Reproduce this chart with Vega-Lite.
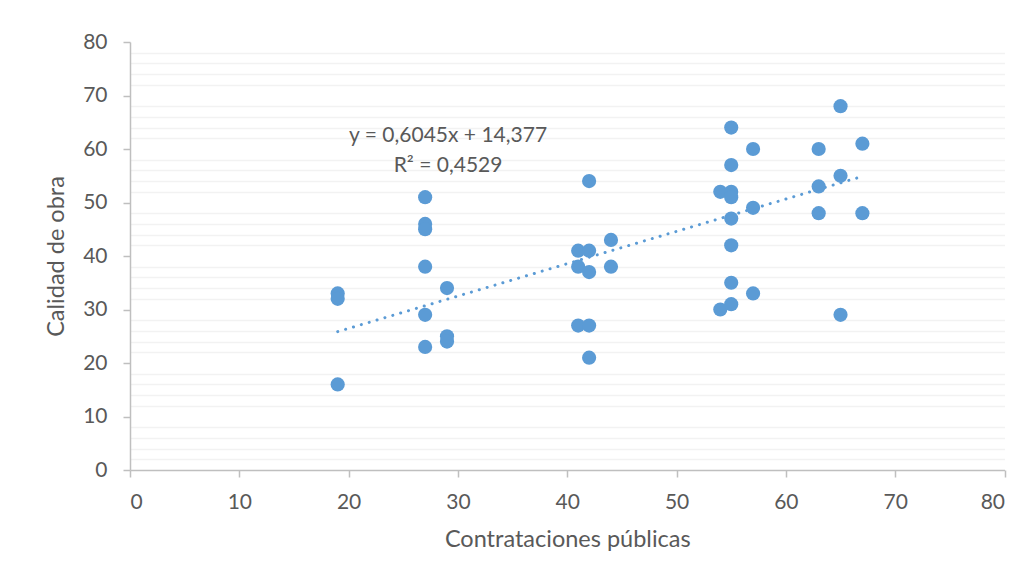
{
  "$schema": "https://vega.github.io/schema/vega-lite/v6.json",
  "width": 874.5,
  "height": 428,
  "autosize": {"type": "none"},
  "padding": {"left": 130, "top": 42, "right": 28.5, "bottom": 113},
  "background": "white",
  "config": {
    "view": {"stroke": null},
    "font": "Lato",
    "axis": {
      "labelFont": "Lato",
      "titleFont": "Lato",
      "labelColor": "#595959",
      "titleColor": "#595959",
      "labelFontSize": 21,
      "titleFontSize": 23.5,
      "titleFontWeight": "normal",
      "domainColor": "#bfbfbf",
      "tickColor": "#bfbfbf",
      "domainWidth": 1.5,
      "tickWidth": 1.5,
      "gridColor": "#d9d9d9",
      "gridWidth": 1.5
    }
  },
  "datasets": {
    "points": [
      {"x": 19, "y": 33}, {"x": 19, "y": 32}, {"x": 19, "y": 16},
      {"x": 27, "y": 51}, {"x": 27, "y": 46}, {"x": 27, "y": 45}, {"x": 27, "y": 38}, {"x": 27, "y": 29}, {"x": 27, "y": 23},
      {"x": 29, "y": 34}, {"x": 29, "y": 25}, {"x": 29, "y": 24},
      {"x": 41, "y": 41}, {"x": 41, "y": 38}, {"x": 41, "y": 27},
      {"x": 42, "y": 54}, {"x": 42, "y": 41}, {"x": 42, "y": 37}, {"x": 42, "y": 27}, {"x": 42, "y": 21},
      {"x": 44, "y": 43}, {"x": 44, "y": 38},
      {"x": 54, "y": 52}, {"x": 54, "y": 30},
      {"x": 55, "y": 64}, {"x": 55, "y": 57}, {"x": 55, "y": 52}, {"x": 55, "y": 51}, {"x": 55, "y": 47}, {"x": 55, "y": 42}, {"x": 55, "y": 35}, {"x": 55, "y": 31},
      {"x": 57, "y": 60}, {"x": 57, "y": 49}, {"x": 57, "y": 33},
      {"x": 63, "y": 60}, {"x": 63, "y": 53}, {"x": 63, "y": 48},
      {"x": 65, "y": 68}, {"x": 65, "y": 55}, {"x": 65, "y": 29},
      {"x": 67, "y": 61}, {"x": 67, "y": 48}
    ],
    "trend": [
      {"x": 19, "y": 25.86},
      {"x": 67, "y": 54.88}
    ]
  },
  "resolve": {"axis": {"y": "independent"}},
  "layer": [
    {
      "data": {"name": "trend"},
      "mark": {"type": "line", "color": "#5b9bd5", "strokeWidth": 3, "strokeDash": [0.1, 8.1], "strokeCap": "round"},
      "encoding": {
        "x": {"field": "x", "type": "quantitative", "scale": {"domain": [0, 80], "nice": false},
          "axis": {"values": [0, 10, 20, 30, 40, 50, 60, 70, 80], "grid": false, "tickSize": 7, "labelPadding": 14, "title": "Contrataciones públicas", "titlePadding": 15}},
        "y": {"field": "y", "type": "quantitative", "scale": {"domain": [0, 80], "nice": false},
          "axis": {"orient": "left", "values": [2, 4, 6, 8, 12, 14, 16, 18, 22, 24, 26, 28, 32, 34, 36, 38, 42, 44, 46, 48, 52, 54, 56, 58, 62, 64, 66, 68, 72, 74, 76, 78],
            "labels": false, "ticks": false, "domain": false, "title": null, "grid": true, "gridColor": "#f2f2f2", "gridWidth": 1.5}}
      }
    },
    {
      "data": {"name": "points"},
      "mark": {"type": "circle", "color": "#5b9bd5", "size": 201, "opacity": 1},
      "encoding": {
        "x": {"field": "x", "type": "quantitative"},
        "y": {"field": "y", "type": "quantitative", "scale": {"domain": [0, 80], "nice": false},
          "axis": {"orient": "left", "values": [0, 10, 20, 30, 40, 50, 60, 70, 80], "tickSize": 7, "labelPadding": 16, "title": "Calidad de obra", "titlePadding": 14}}
      }
    },
    {
      "data": {"values": [{}]},
      "mark": {"type": "text", "fontSize": 21, "color": "#595959", "align": "center", "baseline": "middle", "font": "Lato"},
      "encoding": {
        "x": {"datum": 29.1, "type": "quantitative"},
        "y": {"datum": 62.4, "type": "quantitative", "axis": null},
        "text": {"value": "y = 0,6045x + 14,377"}
      }
    },
    {
      "data": {"values": [{}]},
      "mark": {"type": "text", "fontSize": 21, "color": "#595959", "align": "center", "baseline": "middle", "font": "Lato"},
      "encoding": {
        "x": {"datum": 29.1, "type": "quantitative"},
        "y": {"datum": 56.9, "type": "quantitative", "axis": null},
        "text": {"value": "R² = 0,4529"}
      }
    }
  ]
}
